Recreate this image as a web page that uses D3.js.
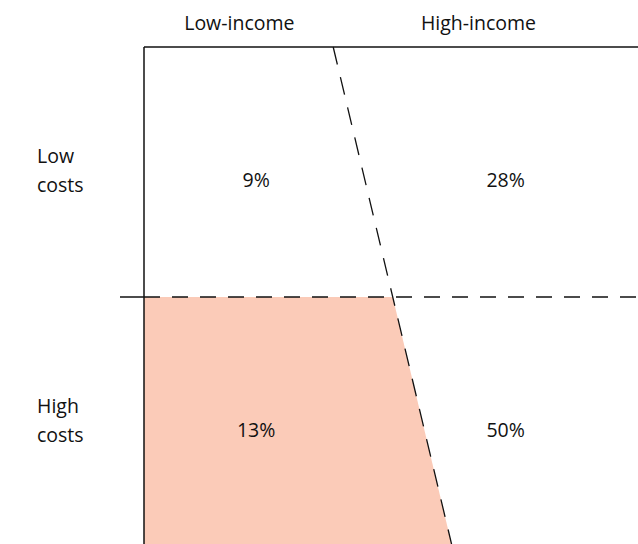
<!DOCTYPE html>
<html>
<head>
<meta charset="utf-8">
<script src="https://cdn.jsdelivr.net/npm/d3@7"></script>
<style>
  html, body { margin: 0; padding: 0; background: #fff; }
  svg { display: block; }
  text { font-family: "Open Sans", "Noto Sans", sans-serif; fill: #111; }
</style>
</head>
<body>
<svg id="chart" width="638" height="544"></svg>
<script>
// Income groups (columns) and cost groups (rows)
const incomeGroups = ["Low-income", "High-income"];
const costGroups = [["Low", "costs"], ["High", "costs"]];
// Share of households in each cell, rows = cost group, columns = income group
const lowCostShares = [9, 28];
const highCostShares = [13, 50];
// Income boundary position (share of plot width) at top and bottom edges
const boundaryTop = 0.383;
const boundaryBottom = 0.624;

const svg = d3.select("#chart");
const plotLeft = 144, plotRight = 638, plotTop = 47, plotBottom = 547;
const fontSize = 19.5;

const x = d3.scaleLinear().domain([0, 1]).range([plotLeft, plotRight]);
const y = d3.scaleLinear().domain([0, 2]).range([plotTop, plotBottom]);

// column label centres and value label centres
const colLabelX = [0.193, 0.677];
const valueX = [0.227, 0.732];

// Boundary line as a function of row position
const bx = t => x(boundaryTop + (boundaryBottom - boundaryTop) * (t / 2));

// Shaded cell: low-income, high-costs
svg.append("path")
  .attr("d", d3.line()([
    [x(0), y(1)], [bx(1), y(1)], [bx(2), y(2)], [x(0), y(2)]
  ]))
  .attr("fill", "#fbcbb8");

// Frame: top and left edges
svg.append("line")
  .attr("x1", x(0)).attr("x2", x(1)).attr("y1", y(0)).attr("y2", y(0))
  .attr("stroke", "#111").attr("stroke-width", 1.5);
svg.append("line")
  .attr("x1", x(0)).attr("x2", x(0)).attr("y1", y(0)).attr("y2", y(2))
  .attr("stroke", "#111").attr("stroke-width", 1.5);

// Horizontal cost divider
svg.append("line")
  .attr("x1", 120).attr("x2", x(0)).attr("y1", y(1)).attr("y2", y(1))
  .attr("stroke", "#111").attr("stroke-width", 1.5);
svg.append("line")
  .attr("x1", x(0)).attr("x2", x(1)).attr("y1", y(1)).attr("y2", y(1))
  .attr("stroke", "#111").attr("stroke-width", 1.5)
  .attr("stroke-dasharray", "16 12");

// Slanted income divider
svg.append("line")
  .attr("x1", bx(0)).attr("x2", bx(2)).attr("y1", y(0)).attr("y2", y(2))
  .attr("stroke", "#111").attr("stroke-width", 1.3)
  .attr("stroke-dasharray", "18 13");

// Column headers
svg.selectAll("text.col")
  .data(incomeGroups)
  .join("text")
  .attr("class", "col")
  .attr("x", (d, i) => x(colLabelX[i]))
  .attr("y", 30)
  .attr("text-anchor", "middle")
  .attr("font-size", fontSize)
  .text(d => d);

// Row headers
costGroups.forEach((lines, r) => {
  const t = svg.append("text")
    .attr("x", 37)
    .attr("y", y(r + 0.462))
    .attr("font-size", fontSize);
  lines.forEach((ln, k) => {
    t.append("tspan").attr("x", 37).attr("dy", k === 0 ? 0 : 29).text(ln);
  });
});

// Cell values
const rows = [lowCostShares, highCostShares];
rows.forEach((vals, r) => {
  svg.selectAll("text.v" + r)
    .data(vals)
    .join("text")
    .attr("class", "v" + r)
    .attr("x", (d, i) => x(valueX[i]))
    .attr("y", y(r + 0.56))
    .attr("text-anchor", "middle")
    .attr("font-size", fontSize)
    .text(d => d + "%");
});
</script>
</body>
</html>
